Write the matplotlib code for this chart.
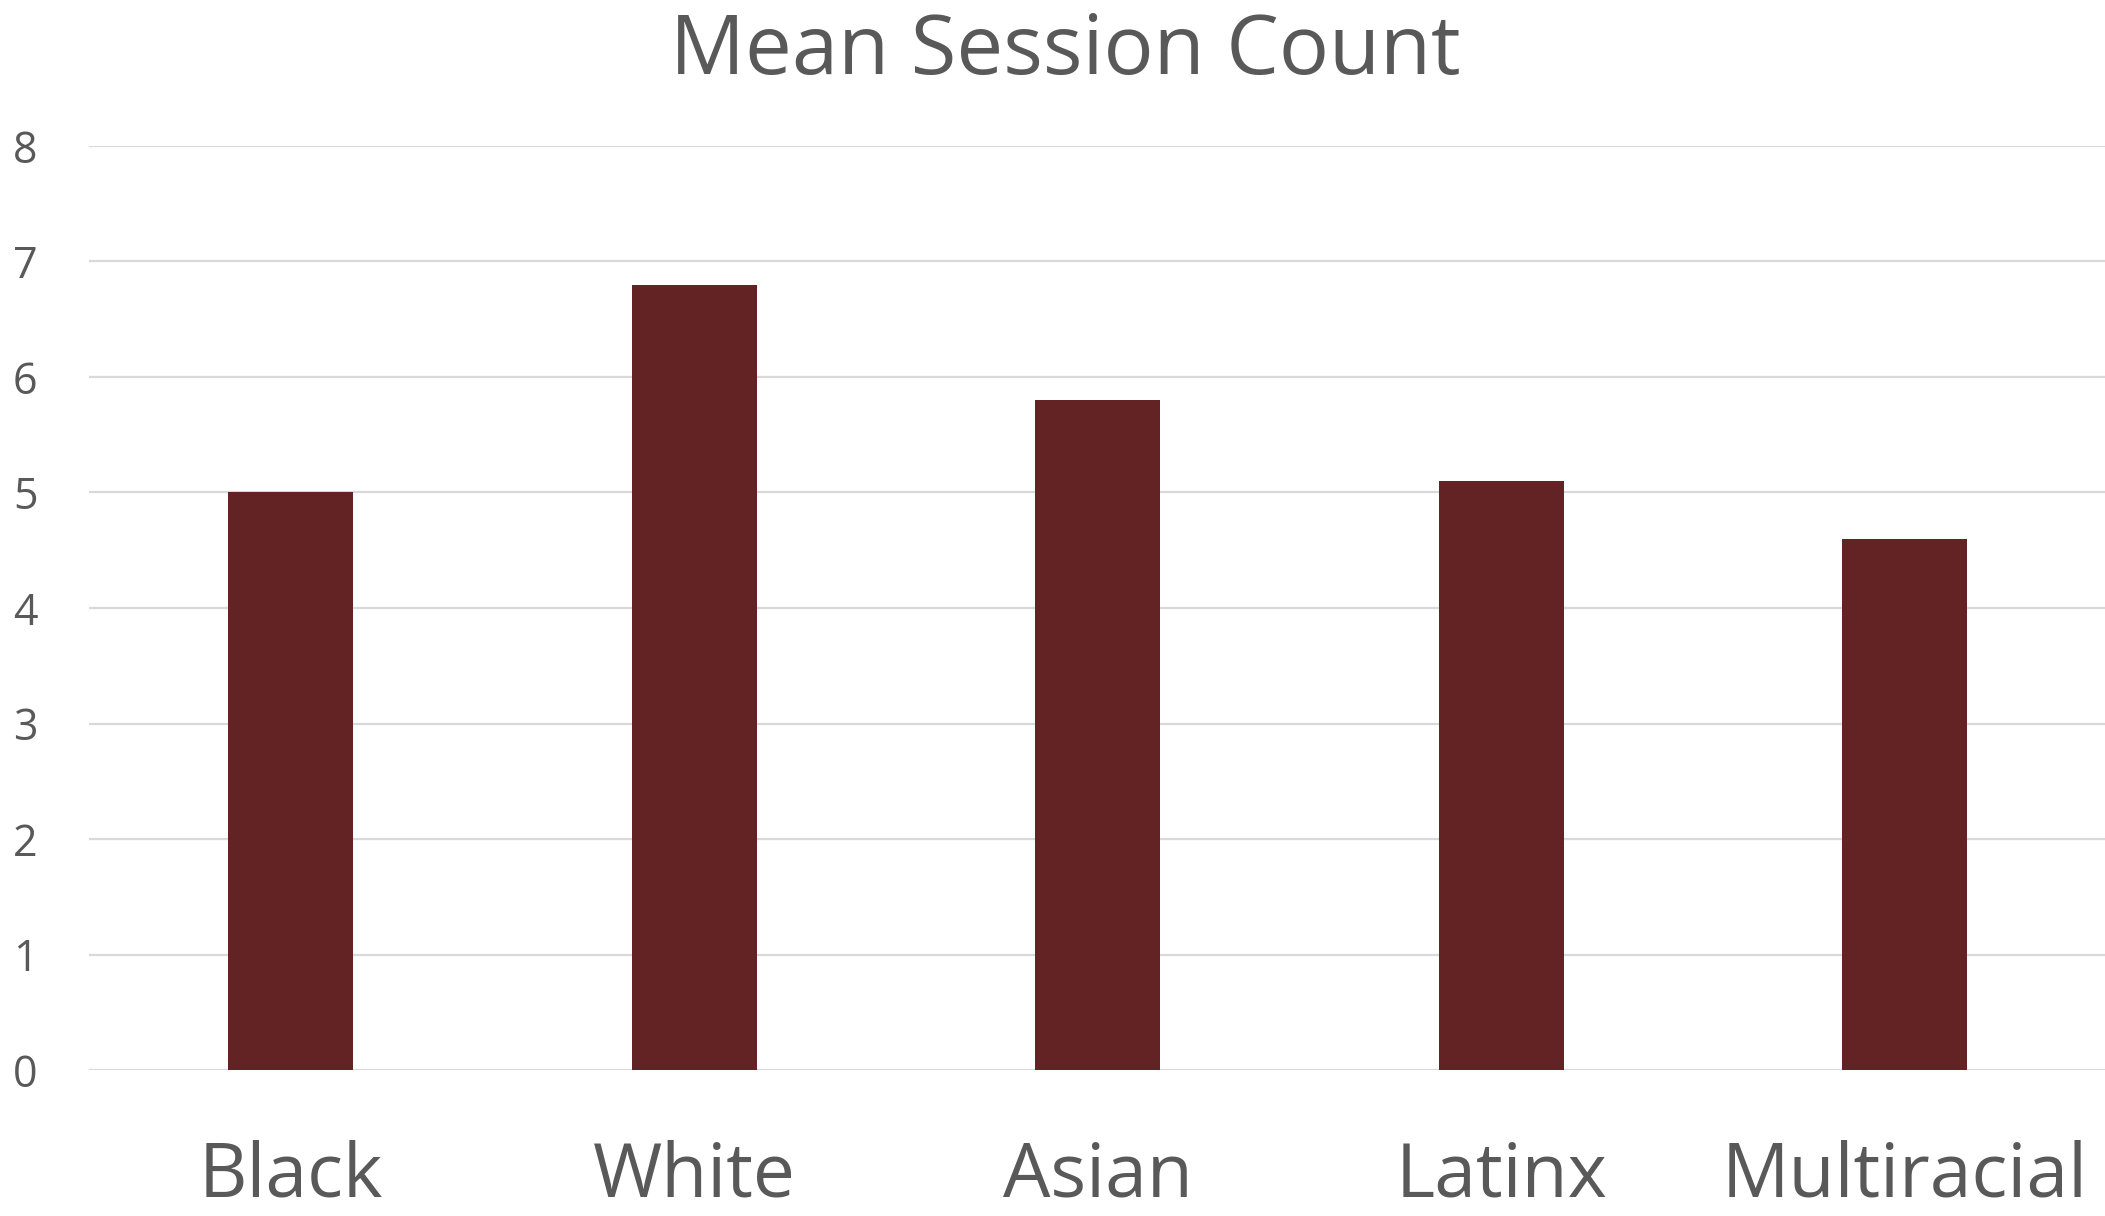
import matplotlib.pyplot as plt

groups = ["Black", "White", "Asian", "Latinx", "Multiracial"]
mean_sessions = [5.0, 6.8, 5.8, 5.1, 4.6]
y_ticks = [0, 1, 2, 3, 4, 5, 6, 7, 8]

plt.rcParams['font.family'] = ['Open Sans', 'DejaVu Sans']
text_gray = '#595959'

fig = plt.figure(figsize=(21.05, 12.16), dpi=100)
ax = fig.add_axes([0.0423, 0.120, 0.9585, 0.760])

x = range(len(groups))
ax.bar(x, mean_sessions, width=0.31, color='#632325', zorder=3)

ax.set_xlim(-0.5, len(groups) - 0.5)
ax.set_ylim(0, 8)
ax.set_yticks(y_ticks)
ax.set_xticks(list(x))
ax.set_xticklabels(groups)

ax.grid(axis='y', color='#d9d9d9', linewidth=1.6, zorder=0)
ax.set_axisbelow(True)
for s in ax.spines.values():
    s.set_visible(False)

ax.tick_params(axis='y', length=0, pad=37, labelsize=31, labelcolor=text_gray)
ax.tick_params(axis='x', length=0, pad=50, labelsize=54, labelcolor=text_gray)

fig.text(0.506, 0.939, "Mean Session Count", ha='center', va='baseline',
         fontsize=60, color=text_gray)

fig.savefig("out.png", dpi=100, facecolor='white')
